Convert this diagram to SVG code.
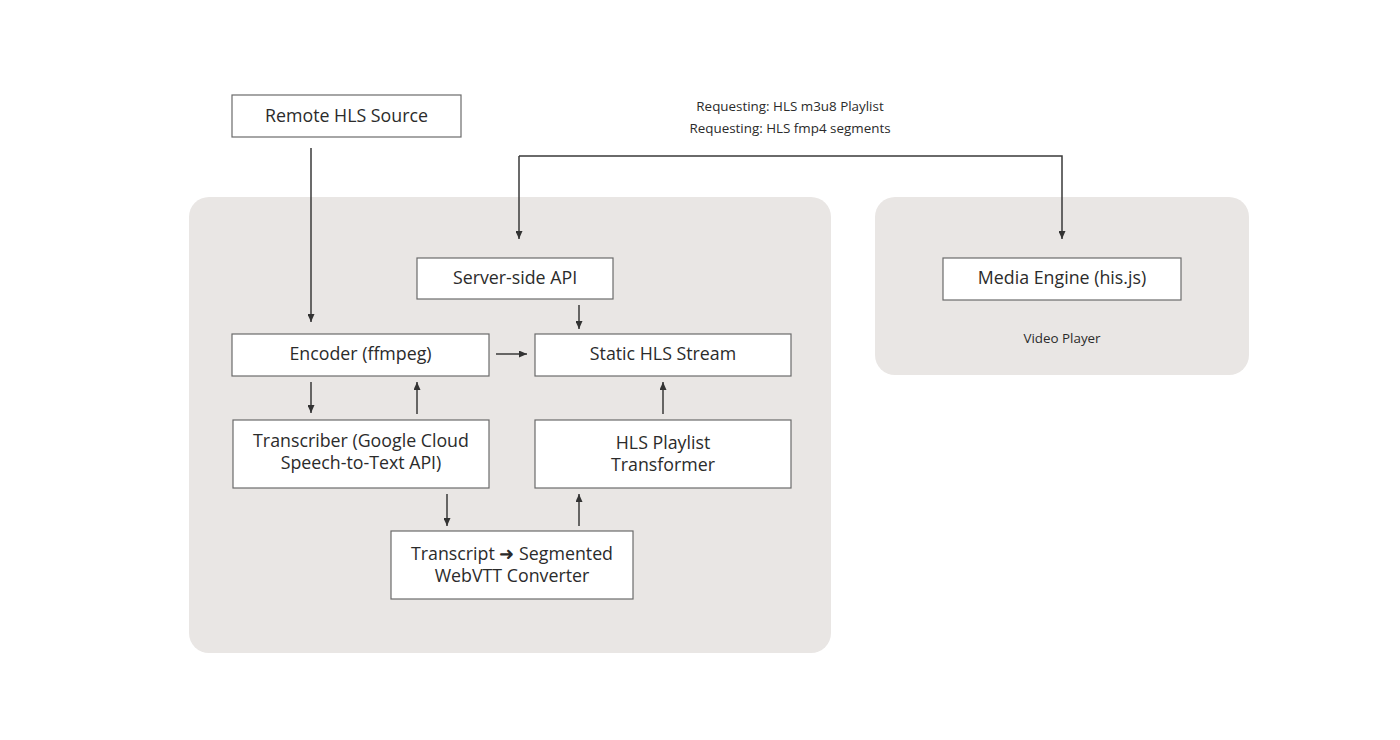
<svg xmlns="http://www.w3.org/2000/svg" width="1400" height="740" viewBox="0 0 1400 740">
<defs>
<marker id="ah" viewBox="0 0 8 7" refX="8" refY="3.5" markerWidth="8" markerHeight="7" markerUnits="userSpaceOnUse" orient="auto-start-reverse">
<path d="M0,0 L8,3.5 L0,7 Z" fill="#333"/>
</marker>
<style>
.grp{fill:#e9e6e4}
.box{fill:#fff;stroke:#6b6b6b;stroke-width:1.2}
.t{font-family:"Open Sans","Lato","Liberation Sans",sans-serif;font-size:17.8px;fill:#2b2b2b;text-anchor:middle}
.s{font-family:"Open Sans","Lato","Liberation Sans",sans-serif;font-size:13.4px;fill:#2b2b2b;text-anchor:middle}
.c{fill:none;stroke:#3a3a3a;stroke-width:1.5;marker-end:url(#ah)}
</style>
</defs>
<rect width="1400" height="740" fill="#fff"/>
<g id="server-group"><rect class="grp" x="189" y="197" width="642" height="456" rx="20"/></g>
<g id="player-group"><rect class="grp" x="875" y="197" width="374" height="178" rx="20"/>
<text class="s" x="1062" y="343">Video Player</text></g>
<g id="labels">
<text class="s" x="790" y="111">Requesting: HLS m3u8 Playlist</text>
<text class="s" x="790" y="133">Requesting: HLS fmp4 segments</text>
</g>
<g id="connectors">
<path class="c" d="M519,156 L519,239"/>
<path class="c" d="M519,156 L1062,156 L1062,239"/>
<path class="c" d="M311,148 L311,322"/>
<path class="c" d="M579,305 L579,329"/>
<path class="c" d="M496,354 L527,354"/>
<path class="c" d="M311,382 L311,413"/>
<path class="c" d="M417,414 L417,382"/>
<path class="c" d="M663,414 L663,382"/>
<path class="c" d="M447,494 L447,526"/>
<path class="c" d="M579,526 L579,494"/>
</g>
<g id="remote"><rect class="box" x="232" y="95" width="229" height="42"/><text class="t" x="346.5" y="122">Remote HLS Source</text></g>
<g id="api"><rect class="box" x="417" y="258" width="196" height="41"/><text class="t" x="515" y="284">Server-side API</text></g>
<g id="encoder"><rect class="box" x="232" y="334" width="257" height="42"/><text class="t" x="360.5" y="360">Encoder (ffmpeg)</text></g>
<g id="static"><rect class="box" x="535" y="334" width="256" height="42"/><text class="t" x="663" y="360">Static HLS Stream</text></g>
<g id="transcriber"><rect class="box" x="233" y="420" width="256" height="68"/><text class="t" x="361" y="447">Transcriber (Google Cloud</text><text class="t" x="361" y="469">Speech-to-Text API)</text></g>
<g id="transformer"><rect class="box" x="535" y="420" width="256" height="68"/><text class="t" x="663" y="449">HLS Playlist</text><text class="t" x="663" y="471">Transformer</text></g>
<g id="converter"><rect class="box" x="391" y="531" width="242" height="68"/><text class="t" x="512" y="560">Transcript ➜ Segmented</text><text class="t" x="512" y="582">WebVTT Converter</text></g>
<g id="media"><rect class="box" x="943" y="258" width="238" height="42"/><text class="t" x="1062" y="284">Media Engine (his.js)</text></g>
</svg>
